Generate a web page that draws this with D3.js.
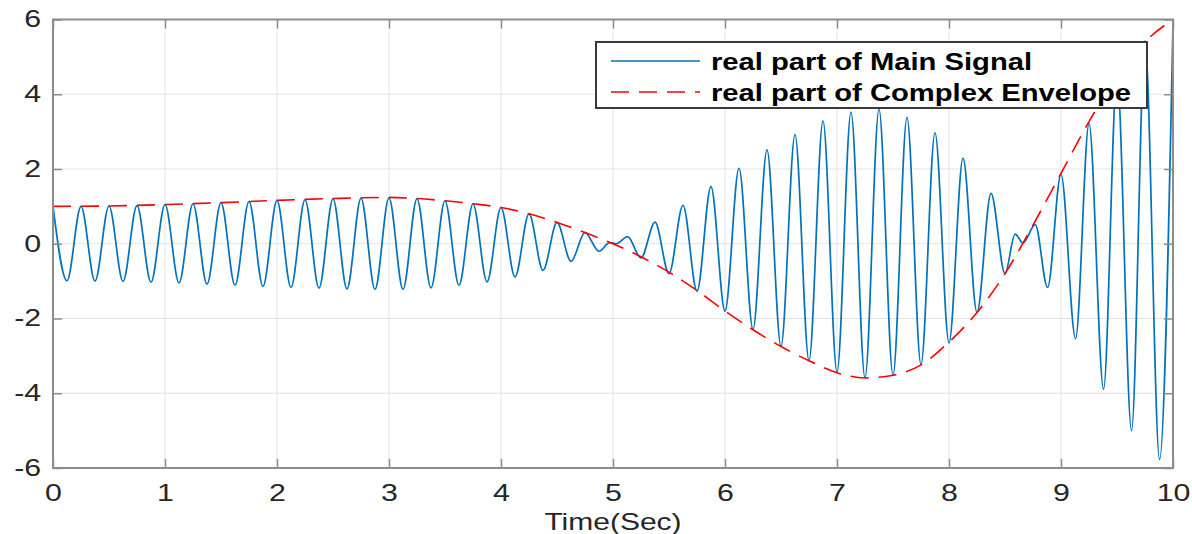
<!DOCTYPE html>
<html>
<head>
<meta charset="utf-8">
<script src="https://cdn.jsdelivr.net/npm/d3@7"></script>
<style>
  html, body { margin: 0; padding: 0; background: #fff; }
  svg { display: block; }
</style>
</head>
<body>
<script>
// ---------- data ----------
const xTicks = [0, 1, 2, 3, 4, 5, 6, 7, 8, 9, 10];
const xTickLabels = ["0", "1", "2", "3", "4", "5", "6", "7", "8", "9", "10"];
const yTicks = [-6, -4, -2, 0, 2, 4, 6];
const yTickLabels = ["-6", "-4", "-2", "0", "2", "4", "6"];
const xLabel = "Time(Sec)";
const seriesNames = ["real part of Main Signal", "real part of Complex Envelope"];

// real part of complex envelope
const envT = [0, 0.5, 1, 1.5, 2, 2.5, 3, 3.25, 3.5, 3.75, 4, 4.25, 4.5, 4.75, 5, 5.25, 5.5, 5.75, 6, 6.25, 6.5, 6.75, 7, 7.25, 7.5, 7.75, 8, 8.25, 8.5, 8.75, 9, 9.25, 9.5, 9.75, 10];
const envV = [1.0, 1.01, 1.05, 1.10, 1.16, 1.21, 1.24, 1.21, 1.15, 1.07, 0.97, 0.80, 0.57, 0.30, 0.0, -0.35, -0.76, -1.25, -1.80, -2.30, -2.75, -3.13, -3.45, -3.59, -3.52, -3.24, -2.63, -1.84, -0.80, 0.50, 1.88, 3.27, 4.45, 5.40, 6.0];

// real part of main signal: successive peaks / troughs
const sigT = [0, 0.125, 0.25, 0.375, 0.5, 0.625, 0.75, 0.875, 1.0, 1.125, 1.25, 1.375, 1.5, 1.625, 1.75, 1.875,
  2.0, 2.125, 2.25, 2.375, 2.5, 2.625, 2.75, 2.875, 3.0, 3.125, 3.25, 3.375, 3.5, 3.625, 3.75, 3.875,
  4.0, 4.125, 4.25, 4.375, 4.5, 4.625, 4.75, 4.875, 4.97, 5.03, 5.13, 5.25, 5.375, 5.5, 5.625, 5.75, 5.875,
  6.0, 6.125, 6.25, 6.375, 6.5, 6.625, 6.75, 6.875, 7.0, 7.125, 7.25, 7.375, 7.5, 7.625, 7.75, 7.875,
  8.0, 8.125, 8.25, 8.375, 8.5, 8.59, 8.66, 8.77, 8.88, 9.0, 9.13, 9.25, 9.38, 9.5, 9.63, 9.75, 9.88, 10.0];
const sigV = [1.0, -0.99, 1.0, -1.0, 1.01, -1.01, 1.02, -1.03, 1.05, -1.05, 1.07, -1.08, 1.10, -1.11, 1.13, -1.14,
  1.16, -1.17, 1.18, -1.19, 1.21, -1.21, 1.22, -1.22, 1.23, -1.22, 1.21, -1.18, 1.15, -1.11, 1.07, -1.02,
  0.97, -0.89, 0.80, -0.71, 0.57, -0.47, 0.30, -0.20, 0.03, 0.0, 0.19, -0.38, 0.58, -0.80, 1.03, -1.27, 1.53,
  -1.80, 2.02, -2.29, 2.51, -2.75, 2.92, -3.13, 3.29, -3.44, 3.52, -3.59, 3.60, -3.52, 3.38, -3.23, 2.97,
  -2.65, 2.29, -1.84, 1.35, -0.80, 0.26, 0.02, 0.51, -1.17, 1.86, -2.54, 3.22, -3.89, 4.50, -5.0, 5.43, -5.77, 5.90];

// ---------- layout ----------
const W = 1192, H = 534;
const L = 53, R = 1173, T = 19.5, B = 468;
const blue = "#0072BD", red = "#FF0000";
const axisGray = "#8c8c8c", gridGray = "#e3e3e3", textCol = "#262626";
const font = "'Liberation Sans', Arial, Helvetica, sans-serif";

const svg = d3.select("body").append("svg").attr("width", W).attr("height", H);

const x = d3.scaleLinear().domain([0, 10]).range([L, R]);
const y = d3.scaleLinear().domain([-6, 6]).range([B, T]);

// grid
const grid = svg.append("g");
grid.selectAll("line.vx").data(xTicks).join("line")
  .attr("x1", d => x(d)).attr("x2", d => x(d)).attr("y1", T).attr("y2", B)
  .attr("stroke", gridGray).attr("stroke-width", 1);
grid.selectAll("line.hy").data(yTicks).join("line")
  .attr("x1", L).attr("x2", R).attr("y1", d => y(d)).attr("y2", d => y(d))
  .attr("stroke", gridGray).attr("stroke-width", 1);

// lines
const sigData = sigT.map((t, i) => [t, sigV[i]]);
const envData = envT.map((t, i) => [t, envV[i]]);

svg.append("path").datum(sigData)
  .attr("d", d3.line().x(d => x(d[0])).y(d => y(d[1])).curve(d3.curveMonotoneX))
  .attr("fill", "none").attr("stroke", blue).attr("stroke-width", 1.7);

svg.append("path").datum(envData)
  .attr("d", d3.line().x(d => x(d[0])).y(d => y(d[1])).curve(d3.curveMonotoneX))
  .attr("fill", "none").attr("stroke", red).attr("stroke-width", 1.6)
  .attr("stroke-dasharray", "18,10");

// axes (ticks inside)
function styleAxis(g) {
  g.select(".domain").remove();
  g.selectAll(".tick line").attr("stroke", axisGray).attr("stroke-width", 1.5);
  g.selectAll(".tick text").attr("fill", textCol).style("font-family", font).style("font-size", "23px");
}
const xb = svg.append("g").attr("transform", `translate(0,${B})`)
  .call(d3.axisBottom(x).tickValues(xTicks).tickFormat((d, i) => xTickLabels[i]).tickSize(-9).tickSizeOuter(0).tickPadding(17));
styleAxis(xb);
xb.selectAll(".tick text").attr("transform", "scale(1.32,1)");

const yl = svg.append("g").attr("transform", `translate(${L},0)`)
  .call(d3.axisLeft(y).tickValues(yTicks).tickFormat((d, i) => yTickLabels[i]).tickSize(-9).tickSizeOuter(0).tickPadding(9));
styleAxis(yl);
yl.selectAll(".tick text").attr("transform", "scale(1.32,1)");

const xt = svg.append("g").attr("transform", `translate(0,${T})`)
  .call(d3.axisTop(x).tickValues(xTicks).tickFormat("").tickSize(-9).tickSizeOuter(0));
styleAxis(xt);
const yr = svg.append("g").attr("transform", `translate(${R},0)`)
  .call(d3.axisRight(y).tickValues(yTicks).tickFormat("").tickSize(-9).tickSizeOuter(0));
styleAxis(yr);

// box
svg.append("rect").attr("x", L).attr("y", T).attr("width", R - L).attr("height", B - T)
  .attr("fill", "none").attr("stroke", axisGray).attr("stroke-width", 2);

// x label
svg.append("text").text(xLabel)
  .attr("transform", `translate(${(L + R) / 2},530) scale(1.25,1)`)
  .attr("text-anchor", "middle").attr("fill", textCol)
  .style("font-family", font).style("font-size", "24px");

// legend
const lg = svg.append("g");
lg.append("rect").attr("x", 596).attr("y", 42).attr("width", 551).attr("height", 66)
  .attr("fill", "#fff").attr("stroke", "#3a3a3a").attr("stroke-width", 2);
const rows = [
  { name: seriesNames[0], color: blue, dash: null, yy: 61 },
  { name: seriesNames[1], color: red, dash: "18,10", yy: 92 }
];
rows.forEach(r => {
  lg.append("line").attr("x1", 611).attr("x2", 700).attr("y1", r.yy).attr("y2", r.yy)
    .attr("stroke", r.color).attr("stroke-width", 1.6)
    .attr("stroke-dasharray", r.dash);
  lg.append("text").text(r.name)
    .attr("transform", `translate(711,${r.yy + 8.5}) scale(1.27,1)`)
    .attr("fill", "#000").style("font-family", font).style("font-size", "23px").style("font-weight", "bold");
});
</script>
</body>
</html>
